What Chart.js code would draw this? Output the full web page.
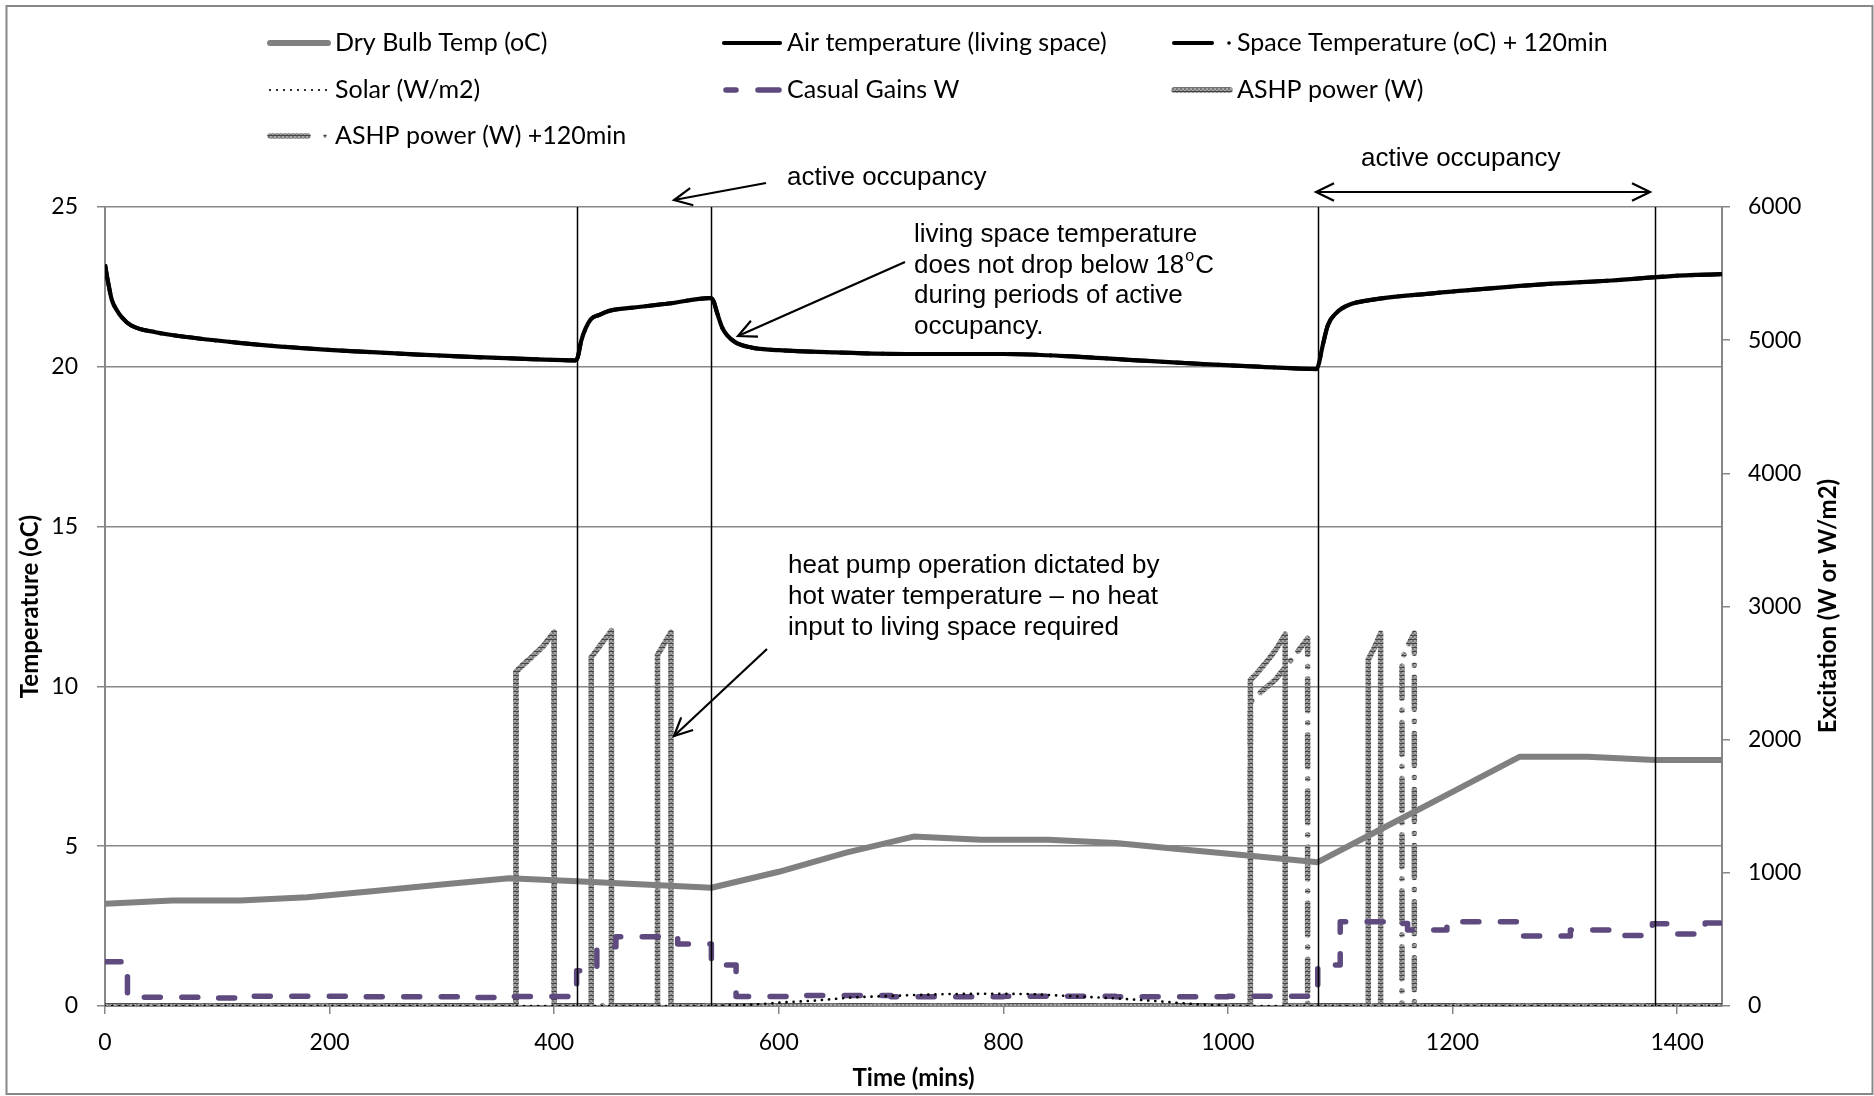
<!DOCTYPE html>
<html>
<head>
<meta charset="utf-8">
<script src="https://cdn.jsdelivr.net/npm/chart.js@4.4.1/dist/chart.umd.min.js"></script>
<style>
  html, body { margin: 0; padding: 0; background: #fff; }
  #wrap { width: 1874px; height: 1096px; }
</style>
</head>
<body>
<div id="wrap"><canvas id="ashpChart" width="1874" height="1096"></canvas></div>
<script>
// minutes / values
const airMins = [0, 3, 6, 10, 15, 23, 45, 80, 119, 170, 225, 280, 332, 380, 419, 421, 424, 428, 433, 440, 449, 470, 502, 539, 542, 545, 550, 560, 576, 600, 651, 720, 800, 864, 920, 970, 1030, 1079, 1081, 1084, 1089, 1097, 1108, 1129, 1183, 1236, 1289, 1342, 1395, 1440];
const airTemp = [23.2, 22.6, 22.1, 21.8, 21.55, 21.3, 21.08, 20.9, 20.75, 20.6, 20.48, 20.38, 20.3, 20.24, 20.2, 20.3, 20.8, 21.2, 21.5, 21.62, 21.75, 21.85, 21.98, 22.15, 22.05, 21.7, 21.2, 20.8, 20.6, 20.52, 20.45, 20.4, 20.4, 20.32, 20.2, 20.1, 20.0, 19.93, 20.1, 20.6, 21.3, 21.7, 21.94, 22.1, 22.3, 22.46, 22.6, 22.7, 22.84, 22.9];
const spaceTemp120 = airTemp.slice();

const dryMins = [0, 60, 120, 180, 240, 300, 360, 420, 480, 540, 600, 660, 720, 780, 840, 900, 960, 1020, 1080, 1140, 1200, 1260, 1320, 1380, 1440];
const dryBulb = [3.2, 3.3, 3.3, 3.4, 3.6, 3.8, 4.0, 3.9, 3.8, 3.7, 4.2, 4.8, 5.3, 5.2, 5.2, 5.1, 4.9, 4.7, 4.5, 5.6, 6.7, 7.8, 7.8, 7.7, 7.7];

const solarMins = [0, 540, 577, 608, 632, 666, 720, 751, 790, 823, 870, 905, 939, 973, 1007, 1440];
const solar = [0, 0, 10, 30, 40, 65, 82, 90, 92, 90, 70, 55, 35, 12, 0, 0];

// step starts (value holds from that minute on)
const casualMins = [0, 20, 90, 130, 230, 330, 360, 420, 438, 455, 510, 540, 562, 620, 700, 800, 900, 1000, 1080, 1100, 1140, 1160, 1195, 1258, 1305, 1340, 1378, 1392, 1425, 1440];
const casualGains = [333, 65, 60, 74, 70, 64, 72, 265, 445, 520, 465, 308, 72, 78, 70, 74, 70, 74, 308, 633, 620, 570, 633, 526, 570, 530, 618, 540, 623, 623];

const ashpMins = [0, 366, 366, 372, 380, 390, 400, 400, 433, 433, 442, 451, 451, 492, 492, 498, 504, 504, 1020, 1020, 1026, 1035, 1043, 1051, 1051, 1125, 1125, 1131, 1136, 1136, 1440];
const ashp = [0, 0, 2510, 2560, 2620, 2700, 2806, 0, 0, 2618, 2720, 2818, 0, 0, 2636, 2720, 2806, 0, 0, 2448, 2500, 2590, 2680, 2791, 0, 0, 2603, 2700, 2799, 0, 0];

const ashp120Mins = [0, 366, 366, 372, 380, 390, 400, 400, 1020, 1020, 1029, 1042, 1061, 1071, 1071, 1155, 1155, 1160, 1166, 1166, 1440];
const ashp120 = [0, 0, 2510, 2560, 2620, 2700, 2806, 0, 0, 2280, 2355, 2448, 2649, 2760, 0, 0, 2605, 2700, 2800, 0, 0];

const occupancyMins = [420, 540, 1080, 1380];
const xTicks = [0, 200, 400, 600, 800, 1000, 1200, 1400];

const pts = (xs, ys) => xs.map((x, i) => ({ x: x, y: ys[i] }));

function hatch() {
    const c = document.createElement('canvas');
    c.width = 4; c.height = 4;
    const g = c.getContext('2d');
    g.fillStyle = '#a6a6a6'; g.fillRect(0, 0, 4, 4);
    g.fillStyle = '#7a7a7a'; g.fillRect(0, 0, 2, 2); g.fillRect(2, 2, 2, 2);
    g.fillStyle = '#444'; g.fillRect(0, 3, 4, 1);
    return g.createPattern(c, 'repeat');
}

const GRID = '#878787';
const SANS = "'Liberation Sans', Arial, sans-serif";

function arrowHead(ctx, x0, y0, x1, y1, len) {
    const a = Math.atan2(y1 - y0, x1 - x0);
    ctx.beginPath();
    ctx.moveTo(x1 - len * Math.cos(a - 0.45), y1 - len * Math.sin(a - 0.45));
    ctx.lineTo(x1, y1);
    ctx.lineTo(x1 - len * Math.cos(a + 0.45), y1 - len * Math.sin(a + 0.45));
    ctx.stroke();
}
function arrow(ctx, x0, y0, x1, y1, both) {
    ctx.beginPath(); ctx.moveTo(x0, y0); ctx.lineTo(x1, y1); ctx.stroke();
    arrowHead(ctx, x0, y0, x1, y1, 20);
    if (both) arrowHead(ctx, x1, y1, x0, y0, 20);
}

const extras = {
    id: 'extras',
    beforeDraw(chart) {
        const ctx = chart.ctx;
        ctx.save();
        ctx.fillStyle = '#fff';
        ctx.fillRect(0, 0, chart.width, chart.height);
        ctx.restore();
    },
    afterDatasetsDraw(chart) {
        const ctx = chart.ctx, x = chart.scales.x, a = chart.chartArea;
        ctx.save();
        ctx.strokeStyle = '#000';
        ctx.lineWidth = 1.5;
        occupancyMins.forEach(m => {
            const px = Math.round(x.getPixelForValue(m)) + 0.5;
            ctx.beginPath(); ctx.moveTo(px, a.top); ctx.lineTo(px, a.bottom); ctx.stroke();
        });
        ctx.restore();
    },
    afterDraw(chart) {
        const ctx = chart.ctx;
        const ds = chart.data.datasets;
        ctx.save();
        // outer frame
        ctx.strokeStyle = GRID; ctx.lineWidth = 2;
        ctx.strokeRect(6.5, 6, 1866, 1088);

        // right axis title (reads bottom to top)
        ctx.save();
        ctx.translate(1828, 606);
        ctx.rotate(-Math.PI / 2);
        ctx.fillStyle = '#000';
        ctx.font = "bold 24px Lato";
        ctx.textAlign = 'center'; ctx.textBaseline = 'middle';
        ctx.fillText('Excitation (W or W/m2)', 0, 0);
        ctx.restore();

        // legend
        const cols = [268, 722, 1172], rows = [43, 90, 136];
        const items = [
            [0, 0, 0, 'line'],
            [1, 1, 0, 'line'],
            [2, 2, 0, 'dashdot'],
            [3, 0, 1, 'dots'],
            [4, 1, 1, 'dash'],
            [5, 2, 1, 'line'],
            [6, 0, 2, 'dashdot']
        ];
        const order = ['Dry Bulb Temp (oC)', 'Air temperature (living space)', 'Space Temperature (oC) + 120min', 'Solar (W/m2)', 'Casual Gains W', 'ASHP power (W)', 'ASHP power (W) +120min'];
        items.forEach(it => {
            const d = ds.find(s => s.label === order[it[0]]);
            const lx = cols[it[1]], ly = rows[it[2]];
            ctx.strokeStyle = d.borderColor;
            ctx.fillStyle = d.borderColor;
            ctx.lineWidth = d.borderWidth;
            ctx.lineCap = 'round';
            ctx.setLineDash([]);
            const w = it[1] === 0 ? 62 : 60;
            if (it[3] === 'line') {
                ctx.beginPath(); ctx.moveTo(lx + 2, ly); ctx.lineTo(lx + w - 2, ly); ctx.stroke();
            } else if (it[3] === 'dashdot') {
                ctx.beginPath(); ctx.moveTo(lx + 2, ly); ctx.lineTo(lx + 40, ly); ctx.stroke();
                ctx.beginPath(); ctx.arc(lx + 57, ly, 1.8, 0, Math.PI * 2); ctx.fill();
            } else if (it[3] === 'dots') {
                for (let k = 0; k < 9; k++) {
                    ctx.beginPath(); ctx.arc(lx + 2 + k * 7, ly, 1.1, 0, Math.PI * 2); ctx.fill();
                }
            } else {
                ctx.beginPath(); ctx.moveTo(lx + 4, ly); ctx.lineTo(lx + 14, ly); ctx.stroke();
                ctx.beginPath(); ctx.moveTo(lx + 36, ly); ctx.lineTo(lx + 57, ly); ctx.stroke();
            }
            ctx.fillStyle = '#000';
            ctx.font = "25px Lato";
            ctx.textAlign = 'left'; ctx.textBaseline = 'middle';
            ctx.fillText(order[it[0]], lx + w + 5, ly);
        });

        // annotations
        ctx.setLineDash([]);
        ctx.lineCap = 'butt';
        ctx.strokeStyle = '#000';
        ctx.fillStyle = '#000';
        ctx.lineWidth = 2.2;
        ctx.font = "26px " + SANS;
        ctx.textAlign = 'left'; ctx.textBaseline = 'middle';

        ctx.fillText('active occupancy', 787, 178);
        arrow(ctx, 766, 183, 674, 200, false);

        ctx.fillText('active occupancy', 1361, 159);
        arrow(ctx, 1316, 192, 1650, 192, true);

        const lx = 914;
        ctx.fillText('living space temperature', lx, 235);
        const t2 = 'does not drop below 18';
        ctx.fillText(t2, lx, 266);
        const w2 = ctx.measureText(t2).width;
        ctx.font = "16px " + SANS;
        ctx.fillText('o', lx + w2 + 1, 257);
        const wo = ctx.measureText('o').width;
        ctx.font = "26px " + SANS;
        ctx.fillText('C', lx + w2 + wo + 2, 266);
        ctx.fillText('during periods of active', lx, 296);
        ctx.fillText('occupancy.', lx, 327);
        arrow(ctx, 905, 262, 738, 336, false);

        ctx.fillText('heat pump operation dictated by', 788, 566);
        ctx.fillText('hot water temperature \u2013 no heat', 788, 597);
        ctx.fillText('input to living space required', 788, 628);
        arrow(ctx, 767, 649, 674, 736, false);

        ctx.restore();
    }
};

function build() {
    const ctx = document.getElementById('ashpChart').getContext('2d');
    Chart.defaults.font.family = 'Lato';
    Chart.defaults.color = '#000';
    const plain = v => String(v);

    new Chart(ctx, {
        type: 'line',
        data: {
            datasets: [
                {
                    label: 'Air temperature (living space)',
                    data: pts(airMins, airTemp),
                    yAxisID: 'y',
                    cubicInterpolationMode: 'monotone',
                    borderColor: '#000', borderWidth: 4.2
                },
                {
                    label: 'Space Temperature (oC) + 120min',
                    data: pts(airMins, spaceTemp120),
                    yAxisID: 'y',
                    cubicInterpolationMode: 'monotone',
                    borderColor: '#000', borderWidth: 4,
                    borderDash: [30, 12, 2, 12]
                },
                {
                    label: 'Solar (W/m2)',
                    data: pts(solarMins, solar),
                    yAxisID: 'y1',
                    borderColor: '#000', borderWidth: 2.6,
                    borderDash: [0.1, 7], borderCapStyle: 'round'
                },
                {
                    label: 'Casual Gains W',
                    data: pts(casualMins, casualGains),
                    yAxisID: 'y1',
                    stepped: 'before',
                    borderColor: '#5e4a7e', borderWidth: 5.5,
                    borderDash: [16, 21.5], borderCapStyle: 'round'
                },
                {
                    label: 'Dry Bulb Temp (oC)',
                    data: pts(dryMins, dryBulb),
                    yAxisID: 'y',
                    borderColor: '#808080', borderWidth: 6
                },
                {
                    label: 'ASHP power (W) +120min',
                    data: pts(ashp120Mins, ashp120),
                    yAxisID: 'y1',
                    borderColor: hatch(), borderWidth: 5.5,
                    borderDash: [32, 12, 0.1, 12], borderCapStyle: 'round'
                },
                {
                    label: 'ASHP power (W)',
                    data: pts(ashpMins, ashp),
                    yAxisID: 'y1',
                    borderColor: hatch(), borderWidth: 5.5
                }
            ]
        },
        options: {
            responsive: false,
            animation: false,
            layout: { padding: { top: 207, left: 0, right: 0, bottom: 0 } },
            elements: { point: { radius: 0 }, line: { tension: 0, borderJoinStyle: 'round' } },
            plugins: { legend: { display: false }, tooltip: { enabled: false } },
            scales: {
                x: {
                    type: 'linear', min: 0, max: 1440,
                    afterBuildTicks: s => { s.ticks = xTicks.map(v => ({ value: v })); },
                    ticks: { font: { size: 23 }, padding: 15, maxRotation: 0, callback: plain },
                    grid: { drawOnChartArea: false, tickLength: 8, color: GRID, lineWidth: 1.5 },
                    border: { color: GRID, width: 2 },
                    title: { display: true, text: 'Time (mins)', font: { size: 24, weight: 'bold' }, padding: { top: 0, bottom: 3 } },
                    afterFit: s => { s.height = 90; }
                },
                y: {
                    position: 'left', min: 0, max: 25,
                    ticks: { stepSize: 5, font: { size: 23 }, padding: 19, callback: plain },
                    grid: { color: GRID, lineWidth: 1.5, tickLength: 8 },
                    border: { color: GRID, width: 2 },
                    title: { display: true, text: 'Temperature (oC)', font: { size: 24, weight: 'bold' }, padding: { top: 16, bottom: 0 } },
                    afterFit: s => { s.width = 105; }
                },
                y1: {
                    position: 'right', min: 0, max: 6000,
                    ticks: { stepSize: 1000, font: { size: 23 }, padding: 18, callback: plain },
                    grid: { drawOnChartArea: false, color: GRID, lineWidth: 1.5, tickLength: 8 },
                    border: { color: GRID, width: 2 },
                    afterFit: s => { s.width = 152; }
                }
            }
        },
        plugins: [extras]
    });
}

Promise.all([
    document.fonts.load('25px Lato'),
    document.fonts.load('bold 24px Lato'),
    document.fonts.load("26px 'Liberation Sans'")
]).then(build, build);
</script>
</body>
</html>
